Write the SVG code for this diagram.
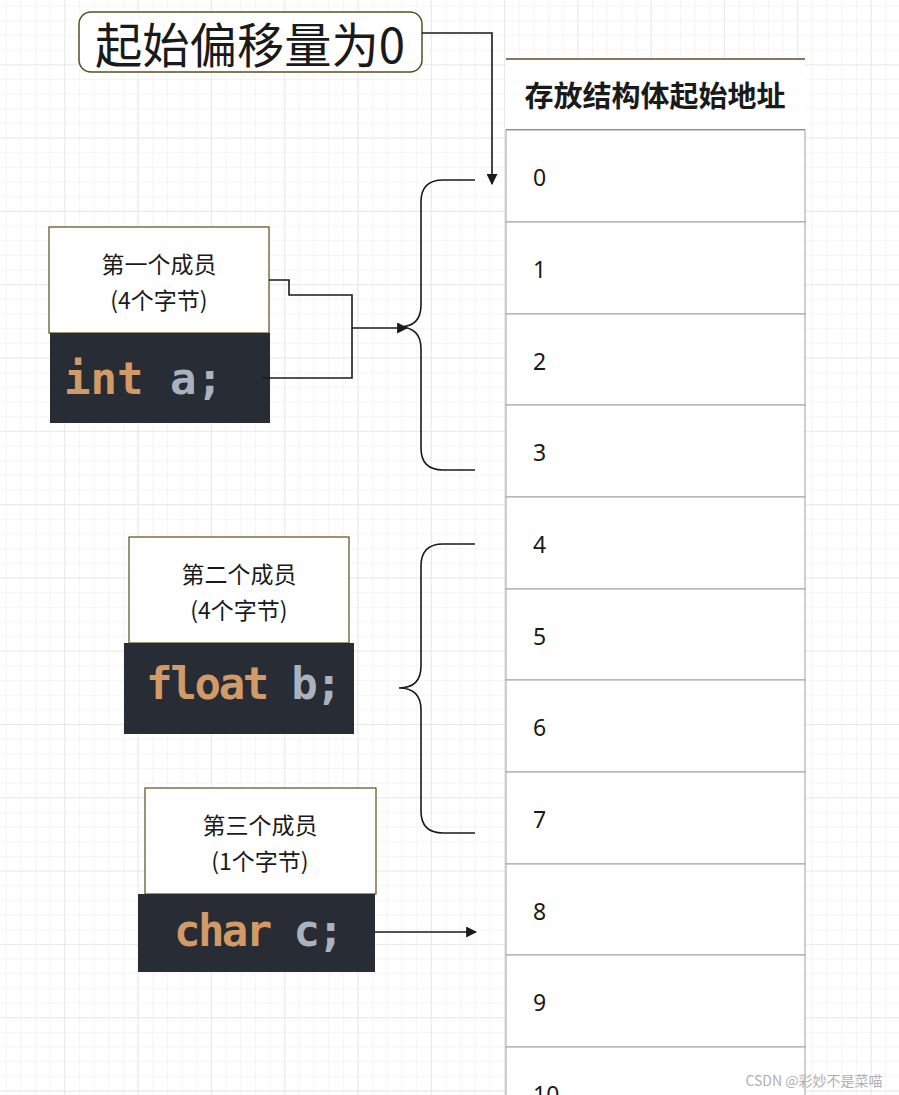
<svg xmlns="http://www.w3.org/2000/svg" width="899" height="1095" viewBox="0 0 899 1095">
<defs>
<pattern id="minor" x="-8" y="-8" width="14.66" height="14.66" patternUnits="userSpaceOnUse"><path d="M14.66 0V14.66M0 14.66H14.66" stroke="#ececec" stroke-width="1" fill="none"/></pattern>
<pattern id="major" x="-8" y="-8" width="73.3" height="73.3" patternUnits="userSpaceOnUse"><path d="M73.3 0V73.3M0 73.3H73.3" stroke="#dcdcdc" stroke-width="1" fill="none"/></pattern>
<marker id="arr" viewBox="0 0 10 10" refX="9" refY="5" markerWidth="11" markerHeight="11" orient="auto" markerUnits="userSpaceOnUse"><path d="M0 0L10 5L0 10z" fill="#1a1a1a"/></marker>
</defs>
<style>
.t{font-family:"Noto Sans CJK SC","Noto Sans",sans-serif;fill:#1a1a1a}
.lbl{fill:#fff;stroke:#5c4d1f;stroke-width:1.2}
.code{fill:#282c34}
.kw{font-family:"DejaVu Sans Mono",monospace;font-size:44px;font-weight:bold;fill:#d19a66}
.id{font-family:"DejaVu Sans Mono",monospace;font-size:44px;font-weight:bold;fill:#abb2bf}
.num{font-family:"Noto Sans","Liberation Sans",sans-serif;font-size:23px;fill:#1a1a1a}
.cell{fill:#fff;stroke:#a0a0a0;stroke-width:1}
.ln{fill:none;stroke:#1a1a1a;stroke-width:1.6}
</style>
<rect width="899" height="1095" fill="#fff"/>
<rect width="899" height="1095" fill="url(#minor)"/>
<rect width="899" height="1095" fill="url(#major)"/>

<g id="title">
<rect x="79" y="12" width="343" height="60" rx="12" fill="#fff" stroke="#5c4d1f" stroke-width="1.5"/>
<text x="250" y="63" text-anchor="middle" class="t" font-size="48" textLength="310" lengthAdjust="spacingAndGlyphs">起始偏移量为0</text>
</g>

<g id="table">
<rect x="506" y="59" width="299" height="71" fill="#fff"/>
<line x1="506" y1="59" x2="805" y2="59" stroke="#5c4d1f" stroke-width="1.5"/>
<line x1="506" y1="130" x2="805" y2="130" stroke="#5c4d1f" stroke-width="1.5"/>
<text x="655" y="107" text-anchor="middle" class="t" font-size="29" font-weight="bold">存放结构体起始地址</text>
<rect class="cell" x="506" y="130" width="299" height="92"/><text class="num" x="533" y="186">0</text>
<rect class="cell" x="506" y="222" width="299" height="92"/><text class="num" x="533" y="278">1</text>
<rect class="cell" x="506" y="314" width="299" height="91"/><text class="num" x="533" y="370">2</text>
<rect class="cell" x="506" y="405" width="299" height="92"/><text class="num" x="533" y="461">3</text>
<rect class="cell" x="506" y="497" width="299" height="92"/><text class="num" x="533" y="553">4</text>
<rect class="cell" x="506" y="589" width="299" height="91"/><text class="num" x="533" y="645">5</text>
<rect class="cell" x="506" y="680" width="299" height="92"/><text class="num" x="533" y="736">6</text>
<rect class="cell" x="506" y="772" width="299" height="92"/><text class="num" x="533" y="828">7</text>
<rect class="cell" x="506" y="864" width="299" height="91"/><text class="num" x="533" y="920">8</text>
<rect class="cell" x="506" y="955" width="299" height="92"/><text class="num" x="533" y="1011">9</text>
<rect class="cell" x="506" y="1047" width="299" height="60"/><text class="num" x="533" y="1103">10</text>
</g>

<g id="m1">
<rect class="lbl" x="49" y="227" width="220" height="106"/>
<text x="159" y="273" text-anchor="middle" class="t" font-size="23">第一个成员</text>
<text x="159" y="309" text-anchor="middle" class="t" font-size="23">(4个字节)</text>
<rect class="code" x="50" y="333" width="220" height="90"/>
<text x="64" y="394"><tspan class="kw">int</tspan><tspan class="id"> a;</tspan></text>
</g>
<g id="m2">
<rect class="lbl" x="129" y="537" width="220" height="106"/>
<text x="239" y="583" text-anchor="middle" class="t" font-size="23">第二个成员</text>
<text x="239" y="619" text-anchor="middle" class="t" font-size="23">(4个字节)</text>
<rect class="code" x="124" y="643" width="230" height="91"/>
<text x="146" y="699" textLength="196" lengthAdjust="spacing"><tspan class="kw">float</tspan><tspan class="id"> b;</tspan></text>
</g>
<g id="m3">
<rect class="lbl" x="145" y="788" width="231" height="106"/>
<text x="260" y="834" text-anchor="middle" class="t" font-size="23">第三个成员</text>
<text x="260" y="870" text-anchor="middle" class="t" font-size="23">(1个字节)</text>
<rect class="code" x="138" y="894" width="237" height="78"/>
<text x="174" y="946" textLength="170" lengthAdjust="spacing"><tspan class="kw">char</tspan><tspan class="id"> c;</tspan></text>
</g>

<g id="connectors">
<path class="ln" d="M422 33H492V184" marker-end="url(#arr)"/>
<path class="ln" d="M475 180H443Q421 180 421 202V305Q421 327 399 327Q421 327 421 349V448Q421 470 443 470H475"/>
<path class="ln" d="M475 544H443Q421 544 421 566V666Q421 688 399 688Q421 688 421 710V811Q421 833 443 833H475"/>
<path class="ln" d="M269 280H289V295H352V378H262"/>
<path class="ln" d="M352 328H407" marker-end="url(#arr)"/>
<path class="ln" d="M375 932H476" marker-end="url(#arr)"/>
</g>
<text x="814" y="1086" text-anchor="middle" font-family="Noto Sans CJK SC,sans-serif" font-size="14" fill="#b0b0b0">CSDN @彩妙不是菜喵</text>
</svg>
